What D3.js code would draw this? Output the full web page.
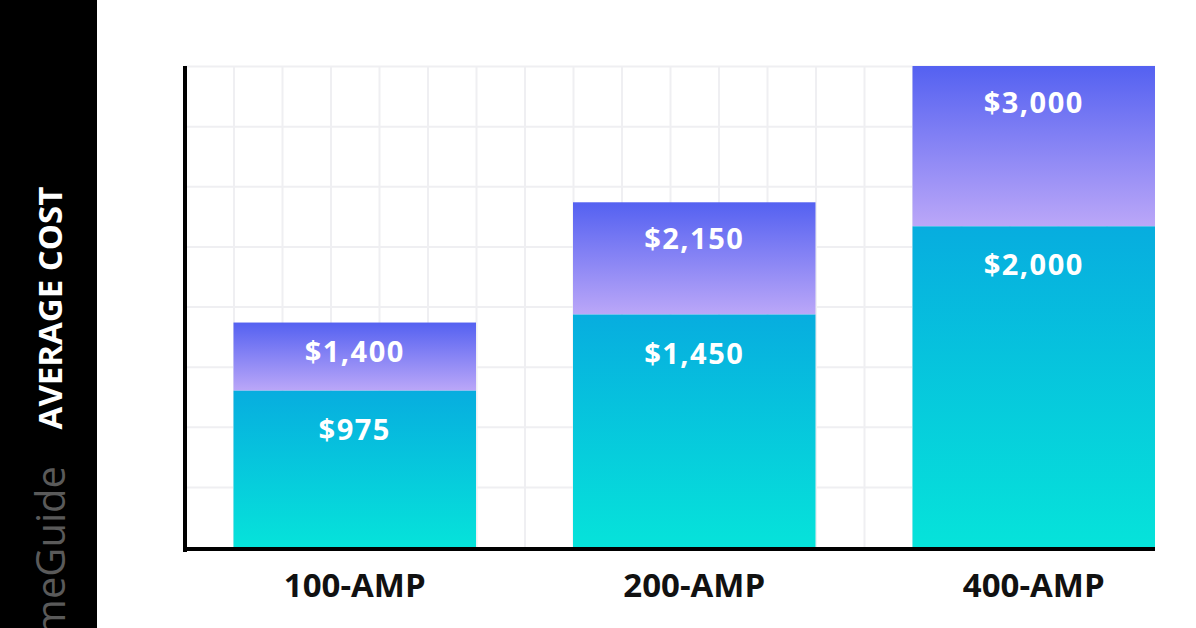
<!DOCTYPE html>
<html>
<head>
<meta charset="utf-8">
<script src="https://cdn.jsdelivr.net/npm/d3@7"></script>
<style>
  html, body { margin: 0; padding: 0; background: #fff; }
  svg { display: block; }
</style>
</head>
<body>
<script>
// data
var categories = ['100-AMP', '200-AMP', '400-AMP'];
var lowCost = [975, 1450, 2000];
var highCost = [1400, 2150, 3000];
var gridStep = 375;      // 8 horizontal grid rows up to $3,000
var gridColumns = 20;

var width = 1196;
var height = 628;
var plotLeft = 185, plotRight = 1155, plotTop = 66, plotBottom = 547;

var fmt = function(v){ return '$' + d3.format(',')(v); };

var svg = d3.select('body').append('svg')
  .attr('width', width)
  .attr('height', height);

var defs = svg.append('defs');
var gradUp = defs.append('linearGradient').attr('id', 'gradUp')
  .attr('x1', 0).attr('y1', 0).attr('x2', 0).attr('y2', 1);
gradUp.append('stop').attr('offset', '0%').attr('stop-color', '#5461f1');
gradUp.append('stop').attr('offset', '100%').attr('stop-color', '#bba7f8');
var gradLow = defs.append('linearGradient').attr('id', 'gradLow')
  .attr('x1', 0).attr('y1', 0).attr('x2', 0).attr('y2', 1);
gradLow.append('stop').attr('offset', '0%').attr('stop-color', '#07addf');
gradLow.append('stop').attr('offset', '100%').attr('stop-color', '#06e3da');

// scales
var y = d3.scaleLinear().domain([0, 3000]).range([plotBottom, plotTop]);
var colW = (plotRight - plotLeft) / gridColumns;
var x = d3.scaleBand().domain(categories)
  .range([plotLeft + colW, plotRight])
  .paddingInner(2 / 7)
  .paddingOuter(0);
var gx = d3.scaleLinear().domain([0, gridColumns]).range([plotLeft, plotRight]);

// black band on the left
svg.append('rect')
  .attr('x', 0).attr('y', 0)
  .attr('width', 97).attr('height', height)
  .attr('fill', '#000');

svg.append('text')
  .attr('transform', 'translate(62,308) rotate(-90)')
  .attr('text-anchor', 'middle')
  .attr('font-family', 'Open Sans, sans-serif')
  .attr('font-weight', 700)
  .attr('font-size', 33)
  .attr('fill', '#fff')
  .text('AVERAGE COST');

svg.append('text')
  .attr('transform', 'translate(65,466) rotate(-90)')
  .attr('text-anchor', 'end')
  .attr('font-family', 'Open Sans, sans-serif')
  .attr('font-size', 40)
  .attr('fill', '#5a5a5a')
  .text('HomeGuide');

// grid
var grid = svg.append('g').attr('class', 'grid');
grid.append('g')
  .attr('transform', 'translate(' + plotLeft + ',0)')
  .call(d3.axisLeft(y).tickValues(d3.range(gridStep, 3001, gridStep))
    .tickSize(-(plotRight - plotLeft)).tickFormat(''));
grid.append('g')
  .attr('transform', 'translate(0,' + plotTop + ')')
  .call(d3.axisBottom(gx).tickValues(d3.range(1, gridColumns))
    .tickSize(plotBottom - plotTop).tickFormat(''));
grid.selectAll('.domain').remove();
grid.selectAll('line').attr('stroke', '#efeff2').attr('stroke-width', 2);

// bars
var rows = categories.map(function(c, i){
  return {cat: c, low: lowCost[i], high: highCost[i]};
});

var bars = svg.selectAll('g.bar').data(rows).enter().append('g')
  .attr('class', 'bar');

bars.append('rect')
  .attr('x', function(d){ return x(d.cat); })
  .attr('y', function(d){ return y(d.high); })
  .attr('width', x.bandwidth())
  .attr('height', function(d){ return y(d.low) - y(d.high); })
  .attr('fill', 'url(#gradUp)');

bars.append('rect')
  .attr('x', function(d){ return x(d.cat); })
  .attr('y', function(d){ return y(d.low); })
  .attr('width', x.bandwidth())
  .attr('height', function(d){ return y(0) - y(d.low); })
  .attr('fill', 'url(#gradLow)');

var valueText = function(sel){
  sel.attr('x', function(d){ return x(d.cat) + x.bandwidth() / 2; })
    .attr('text-anchor', 'middle')
    .attr('font-family', 'Open Sans, sans-serif')
    .attr('font-weight', 700)
    .attr('font-size', 29)
    .attr('letter-spacing', 1.5)
    .attr('fill', '#fff');
};

bars.append('text')
  .call(valueText)
  .attr('y', function(d){
    var t = y(d.high), s = y(d.low);
    return t + Math.min(47, (s - t) * 0.58);
  })
  .text(function(d){ return fmt(d.high); });

bars.append('text')
  .call(valueText)
  .attr('y', function(d){ return y(d.low) + 49; })
  .text(function(d){ return fmt(d.low); });

// axes lines
svg.append('line')
  .attr('x1', plotLeft).attr('x2', plotLeft)
  .attr('y1', plotTop).attr('y2', plotBottom + 5)
  .attr('stroke', '#000').attr('stroke-width', 4);
svg.append('line')
  .attr('x1', plotLeft - 2).attr('x2', plotRight)
  .attr('y1', plotBottom + 2).attr('y2', plotBottom + 2)
  .attr('stroke', '#000').attr('stroke-width', 4);

// category labels
svg.selectAll('text.cat').data(categories).enter().append('text')
  .attr('class', 'cat')
  .attr('x', function(d){ return x(d) + x.bandwidth() / 2; })
  .attr('y', 597)
  .attr('text-anchor', 'middle')
  .attr('font-family', 'Open Sans, sans-serif')
  .attr('font-weight', 700)
  .attr('font-size', 33)
  .attr('fill', '#111')
  .text(function(d){ return d; });
</script>
</body>
</html>
